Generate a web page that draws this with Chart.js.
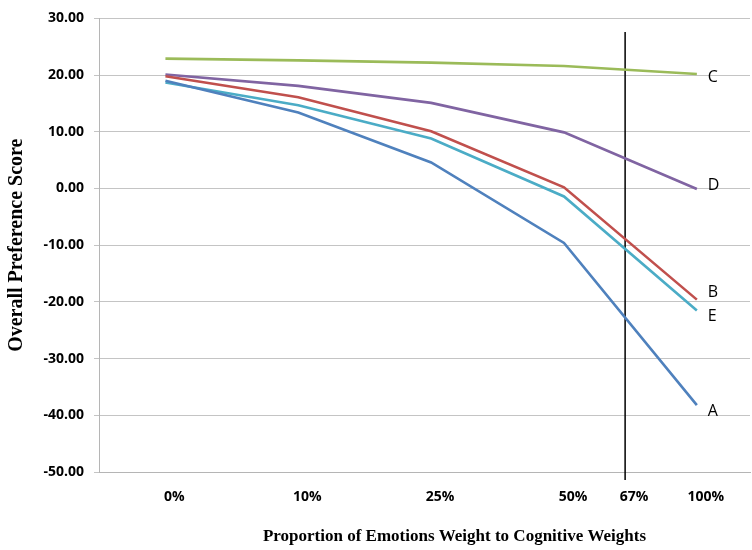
<!DOCTYPE html>
<html>
<head>
<meta charset="utf-8">
<script src="https://cdn.jsdelivr.net/npm/chart.js@4.4.1/dist/chart.umd.min.js"></script>
<style>
  html,body{margin:0;padding:0;background:#fff;}
  #wrap{width:752px;height:550px;}
</style>
</head>
<body>
<div id="wrap"><canvas id="c" width="752" height="550"></canvas></div>
<script>
// points are evenly spaced, the 67% tick is the vertical marker
const xPos = [0, 1, 2, 3, 4];
const tickPos = [0, 1, 2, 3, 3.46, 4];
const tickLabels = ["0%", "10%", "25%", "50%", "67%", "100%"];

const seriesA = [19.0, 13.4, 4.6, -9.6, -38.2];
const seriesB = [19.8, 16.1, 10.1, 0.2, -19.6];
const seriesC = [22.9, 22.6, 22.2, 21.6, 20.2];
const seriesD = [20.1, 18.1, 15.1, 9.9, -0.1];
const seriesE = [18.7, 14.7, 8.8, -1.4, -21.5];

const markerX = 3.46;
const markerTop = 27.6;

const names = ["A", "B", "C", "D", "E"];
const colors = ["#4f81bd", "#c0504d", "#9bbb59", "#8064a2", "#4bacc6"];
const labelDy = [6, -7, 3, -4, 6];

const mk = (vals) => vals.map((v, i) => ({x: xPos[i], y: v}));

const datasets = [seriesA, seriesB, seriesC, seriesD, seriesE].map((s, i) => ({
  label: names[i],
  data: mk(s),
  borderColor: colors[i],
  borderWidth: 2.6,
  pointRadius: 0,
  tension: 0,
  fill: false
}));

datasets.push({
  label: "marker",
  data: [{x: markerX, y: markerTop}, {x: markerX, y: -51.4}],
  borderColor: "#000",
  borderWidth: 1.5,
  pointRadius: 0,
  clip: false
});

const endLabels = {
  id: "endLabels",
  afterDatasetsDraw(chart) {
    const ctx = chart.ctx;
    ctx.save();
    ctx.font = "16px 'Open Sans'";
    ctx.fillStyle = "#000";
    ctx.textBaseline = "middle";
    ctx.textAlign = "left";
    names.forEach((n, i) => {
      const pts = chart.getDatasetMeta(i).data;
      const p = pts[pts.length - 1];
      ctx.fillText(n, p.x + 11, p.y + labelDy[i]);
    });
    // x axis title
    const a = chart.chartArea;
    ctx.font = "bold 17px 'Liberation Serif'";
    ctx.textAlign = "center";
    ctx.fillText("Proportion of Emotions Weight to Cognitive Weights", (a.left + a.right) / 2 + 30, 537);
    ctx.restore();
  }
};

new Chart(document.getElementById("c"), {
  type: "line",
  data: {datasets},
  options: {
    responsive: false,
    animation: false,
    layout: {padding: {top: 17, right: 2, left: 0, bottom: 0}},
    plugins: {legend: {display: false}, tooltip: {enabled: false}},
    scales: {
      x: {
        type: "linear",
        min: -0.5,
        max: 4.4,
        afterBuildTicks(scale) {
          scale.ticks = tickPos.map(v => ({value: v}));
        },
        afterFit(scale) { scale.height = 78; },
        grid: {display: false, drawTicks: false},
        border: {color: "#b5b5b5", width: 1},
        ticks: {
          autoSkip: false,
          maxRotation: 0,
          padding: 17,
          labelOffset: 9,
          color: "#000",
          font: {family: "'Open Sans'", size: 14, weight: "bold"},
          callback: (v, i) => tickLabels[i]
        }
      },
      y: {
        min: -50,
        max: 30,
        afterFit(scale) { scale.width = 99; },
        grid: {color: "#c4c4c4", lineWidth: 1, tickLength: 5},
        border: {color: "#b5b5b5", width: 1},
        ticks: {
          stepSize: 10,
          padding: 10,
          color: "#000",
          font: {family: "'Open Sans'", size: 14, weight: "bold"},
          callback: v => v.toFixed(2)
        },
        title: {
          display: true,
          text: "Overall Preference Score",
          color: "#000",
          padding: {top: 5, bottom: 0},
          font: {family: "'Liberation Serif'", size: 20, weight: "bold"}
        }
      }
    }
  },
  plugins: [endLabels]
});
</script>
</body>
</html>
